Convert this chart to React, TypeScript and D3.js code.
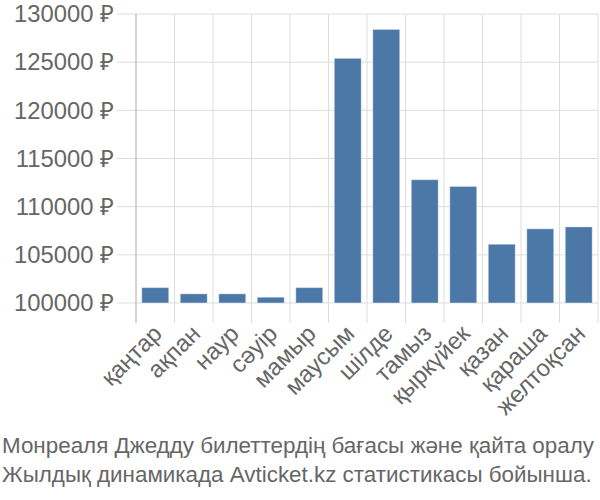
import React from "react";
import * as d3 from "d3";

const months = ["қаңтар","ақпан","наур","сәуір","мамыр","маусым","шілде","тамыз","қыркүйек","қазан","қараша","желтоқсан"];
const prices = [101600, 100950, 100950, 100600, 101600, 125400, 128400, 112800, 112100, 106100, 107700, 107900];
const yTicks = [100000, 105000, 110000, 115000, 120000, 125000, 130000];
const captionLines = [
  "Монреаля Джедду билеттердің бағасы және қайта оралу",
  "Жылдық динамикада Avticket.kz статистикасы бойынша.",
];

export default function App() {
  const W = 600, H = 500;
  const left = 136, right = 598, top = 14, bottom = 303;
  const x = d3.scaleBand<string>().domain(months).range([left, right]).paddingInner(0.3).paddingOuter(0.15);
  const y = d3.scaleLinear().domain([100000, 130000]).range([bottom, top]);
  const step = (right - left) / months.length;
  const font = "'Liberation Sans', Arial, sans-serif";
  const grid = "#dddddd";
  const textColor = "#666666";
  return (
    <svg width={W} height={H} style={{ position: "absolute", left: 0, top: 0 }} fontFamily={font}>
      {yTicks.map((t) => (
        <g key={t}>
          <line x1={117} x2={right} y1={y(t)} y2={y(t)} stroke={grid} strokeWidth={1} />
          <text x={114} y={y(t)} dy="0.35em" textAnchor="end" fontSize={23.8} fill={textColor}>
            {`${t} ₽`}
          </text>
        </g>
      ))}
      {months.map((m, i) => (
        <line key={m} x1={left + step * (i + 1)} x2={left + step * (i + 1)} y1={top} y2={323} stroke={grid} strokeWidth={1} />
      ))}
      <line x1={left} x2={left} y1={top} y2={323} stroke="#aaaaaa" strokeWidth={1} />
      {months.map((m, i) => (
        <rect key={m} x={x(m)} width={x.bandwidth()} y={y(prices[i])} height={bottom - y(prices[i])} fill="#4c78a8" stroke="#ffffff" strokeOpacity={0.4} strokeWidth={1} />
      ))}
      {months.map((m) => {
        const cx = (x(m) as number) + x.bandwidth() / 2 - 2;
        return (
          <text key={m} transform={`translate(${cx},${325}) rotate(-45)`} textAnchor="end" dy="0.6em" fontSize={23.8} fill={textColor}>
            {m}
          </text>
        );
      })}
      {captionLines.map((l, i) => (
        <text key={i} x={2} y={453 + i * 29} fontSize={22.4} fill={textColor}>
          {l}
        </text>
      ))}
    </svg>
  );
}
